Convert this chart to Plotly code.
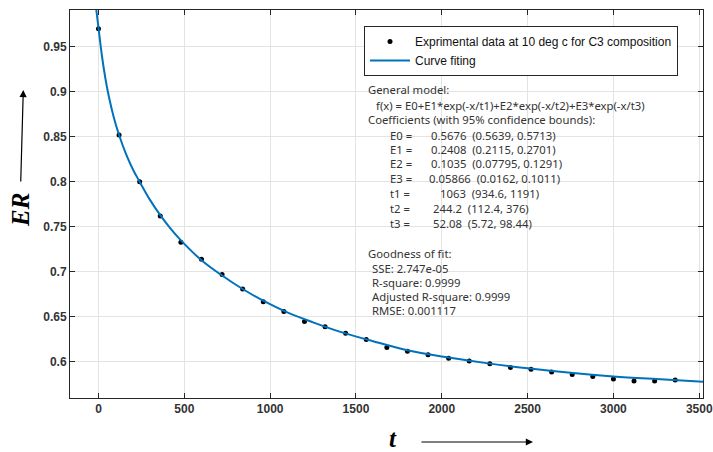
import plotly.graph_objects as go

# ---- data ----
t_data = [0, 120, 240, 360, 480, 600, 720, 840, 960, 1080, 1200, 1320, 1440, 1560,
          1680, 1800, 1920, 2040, 2160, 2280, 2400, 2520, 2640, 2760, 2880, 3000,
          3120, 3240, 3360]
er_data = [0.970, 0.852, 0.800, 0.762, 0.733, 0.714, 0.697, 0.681, 0.667, 0.656,
           0.645, 0.639, 0.632, 0.625, 0.616, 0.612, 0.608, 0.604, 0.601, 0.598,
           0.594, 0.592, 0.589, 0.586, 0.584, 0.581, 0.579, 0.579, 0.580]

t_fit = [-14, 0, 20, 40, 60, 90, 120, 160, 200, 240, 300, 360, 420, 480, 600, 720,
         840, 960, 1100, 1250, 1400, 1600, 1800, 2000, 2250, 2500, 2750, 3000, 3250, 3522]
er_fit = [0.993, 0.971, 0.940, 0.915, 0.895, 0.871, 0.852, 0.831, 0.814, 0.800,
          0.780, 0.763, 0.748, 0.735, 0.713, 0.696, 0.681, 0.668, 0.655, 0.644,
          0.634, 0.623, 0.613, 0.606, 0.599, 0.593, 0.588, 0.584, 0.581, 0.578]

legend_names = ["Exprimental data at 10 deg c for C3 composition", "Curve fiting"]

x_ticks = [0, 500, 1000, 1500, 2000, 2500, 3000, 3500]
y_ticks = [0.6, 0.65, 0.7, 0.75, 0.8, 0.85, 0.9, 0.95]

head_lines = ["General model:",
              "f(x) = E0+E1*exp(-x/t1)+E2*exp(-x/t2)+E3*exp(-x/t3)",
              "Coefficients (with 95% confidence bounds):"]
coef_names = ["E0 =", "E1 =", "E2 =", "E3 =", "t1 =", "t2 =", "t3 ="]
coef_values = ["0.5676  (0.5639, 0.5713)",
               "0.2408  (0.2115, 0.2701)",
               "0.1035  (0.07795, 0.1291)",
               "0.05866  (0.0162, 0.1011)",
               "1063  (934.6, 1191)",
               "244.2  (112.4, 376)",
               "52.08  (5.72, 98.44)"]
gof_lines = ["Goodness of fit:", "SSE: 2.747e-05", "R-square: 0.9999",
             "Adjusted R-square: 0.9999", "RMSE: 0.001117"]

# ---- layout geometry (pixels) ----
W, H = 713, 452
ML, MR, MT, MB = 70, 10, 10, 54
PW, PH = W - ML - MR, H - MT - MB


def px(x):
    return (x - ML) / PW


def py(y):
    return 1 - (y - MT) / PH


fig = go.Figure()
fig.add_trace(go.Scatter(x=t_data, y=er_data, mode="markers", name=legend_names[0],
                         marker=dict(color="black", size=5)))
fig.add_trace(go.Scatter(x=t_fit, y=er_fit, mode="lines", name=legend_names[1],
                         line=dict(color="#0072BD", width=2, shape="spline", smoothing=1)))

axis_common = dict(showline=True, linecolor="#262626", linewidth=1, mirror="ticks",
                   ticks="inside", ticklen=5, tickcolor="#262626", automargin=False,
                   showgrid=True, gridcolor="#e3e3e3", gridwidth=1, zeroline=False,
                   tickfont=dict(family="Liberation Sans", size=12, color="#333333",
                                 weight="bold"))

fig.update_xaxes(range=[-166, 3522], tickvals=x_ticks,
                 ticktext=[str(v) for v in x_ticks], **axis_common)
fig.update_yaxes(range=[0.56, 0.9908], tickvals=y_ticks,
                 ticktext=[f"{v:g}" for v in y_ticks], **axis_common)

# white panel behind the fit report
fig.add_shape(type="rect", xref="paper", yref="paper", layer="between",
              x0=px(361), x1=px(701), y0=py(326), y1=py(82),
              fillcolor="white", line=dict(width=0))

annots = []
txt_font = dict(family="Noto Sans", size=11.3, color="#333333")


def add_text(x, y, text):
    annots.append(dict(xref="paper", yref="paper", x=px(x), y=py(y), text=text,
                       showarrow=False, xanchor="left", yanchor="middle",
                       font=txt_font))


add_text(366, 90, head_lines[0])
add_text(374, 105, head_lines[1])
add_text(366, 119, head_lines[2])
ys = [135, 149, 164, 178, 193, 208, 223]
val_x = [429, 429, 429, 427, 438, 431, 431]
for i, (n, v) in enumerate(zip(coef_names, coef_values)):
    add_text(388, ys[i], n)
    add_text(val_x[i], ys[i], v)
gys = [253, 268, 282, 296, 310]
for i, g in enumerate(gof_lines):
    add_text(366 if i == 0 else 370, gys[i], g)

# axis titles
annots.append(dict(xref="paper", yref="paper", x=px(21), y=py(210), text="<i>ER</i>",
                   textangle=-90, showarrow=False, xanchor="center", yanchor="middle",
                   font=dict(family="Liberation Serif", size=25, color="black",
                             weight="bold")))
annots.append(dict(xref="paper", yref="paper", x=px(23.3), y=py(90), ax=-2.6, ay=93,
                   text="", showarrow=True, arrowhead=2, arrowsize=1.2, arrowwidth=1.2,
                   arrowcolor="black"))
annots.append(dict(xref="paper", yref="paper", x=px(393), y=py(438), text="<i>t</i>",
                   showarrow=False, xanchor="center", yanchor="middle",
                   font=dict(family="Liberation Serif", size=25, color="black",
                             weight="bold")))
annots.append(dict(xref="paper", yref="paper", x=px(533), y=py(442), ax=-113, ay=0,
                   text="", showarrow=True, arrowhead=2, arrowsize=1.2, arrowwidth=1.2,
                   arrowcolor="black"))

fig.update_layout(
    width=W, height=H, margin=dict(l=ML, r=MR, t=MT, b=MB, autoexpand=False),
    paper_bgcolor="white", plot_bgcolor="white",
    showlegend=True,
    legend=dict(x=px(364), y=py(26), xanchor="left", yanchor="top",
                bgcolor="white", bordercolor="#262626", borderwidth=1,
                font=dict(family="Liberation Sans", size=12, color="#111111"),
                itemwidth=40, tracegroupgap=0),
    annotations=annots,
)

fig.write_html("out.html")
